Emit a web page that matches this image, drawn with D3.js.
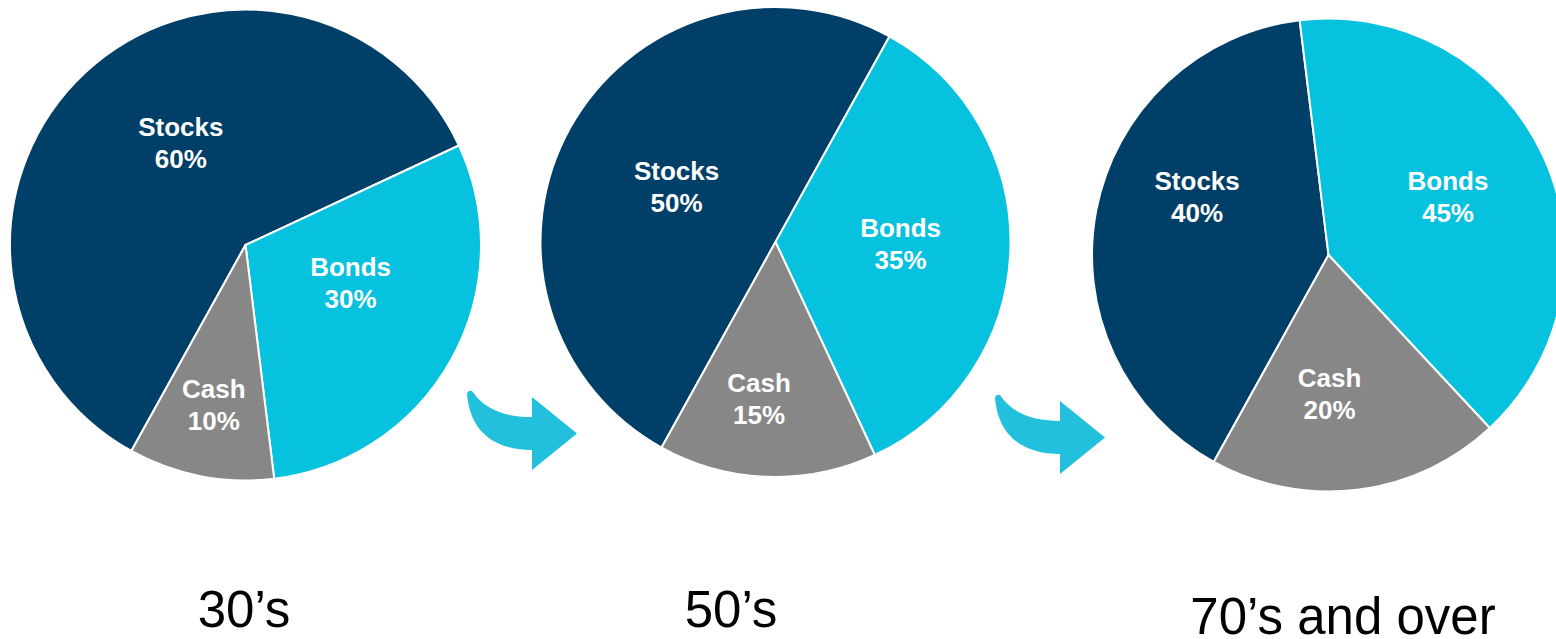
<!DOCTYPE html>
<html>
<head>
<meta charset="utf-8">
<script src="https://cdn.jsdelivr.net/npm/d3@7"></script>
<style>
  html, body { margin: 0; padding: 0; background: #fff; }
  svg { display: block; }
</style>
</head>
<body>
<div id="chart"></div>
<script>
// data, one value per life stage
const stages = ["30\u2019s", "50\u2019s", "70\u2019s and over"];
const categories = ["Stocks", "Bonds", "Cash"];
const stocks = [60, 50, 40];
const bonds = [30, 35, 40];   // last pie draws bonds as a 40% slice
const cash = [10, 15, 20];
const bondLabels = ["30%", "35%", "45%"];  // text printed on the bonds slice

// layout
const width = 1556, height = 639;
const pieLayout = [
  {cx: 245.5, cy: 245, r: 235.5, titleX: 244, titleY: 627},
  {cx: 775.5, cy: 242, r: 235, titleX: 731, titleY: 627},
  {cx: 1328.5, cy: 255, r: 236.5, titleX: 1343, titleY: 634}
];
// small hand nudges of the slice labels (Stocks, Bonds, Cash) per pie
const labelNudge = [
  [[22, -9], [-2, -21], [-2, 7]],
  [[12, 7], [3, -2], [-11, 2]],
  [[-6, -34], [8, -6], [-18, -16]]
];
const arrowSpots = [{x: 467, y: 390}, {x: 995, y: 394}];

const color = d3.scaleOrdinal()
  .domain(categories)
  .range(["#003f68", "#06c2de", "#878787"]);
const labelFactor = {Stocks: 0.54, Bonds: 0.52, Cash: 0.66};

const svg = d3.select("#chart")
  .append("svg")
  .attr("width", width)
  .attr("height", height);

const pie = d3.pie()
  .sort(null)
  .value(d => d.value)
  .startAngle(-151 * Math.PI / 180)
  .endAngle(209 * Math.PI / 180);

stages.forEach(function(stage, i) {
  const L = pieLayout[i];
  const slices = [
    {name: "Stocks", value: stocks[i], label: stocks[i] + "%"},
    {name: "Bonds", value: bonds[i], label: bondLabels[i]},
    {name: "Cash", value: cash[i], label: cash[i] + "%"}
  ];

  const arc = d3.arc().innerRadius(0).outerRadius(L.r);

  const g = svg.append("g")
    .attr("transform", `translate(${L.cx}, ${L.cy})`);

  g.selectAll("path")
    .data(pie(slices))
    .join("path")
    .attr("d", arc)
    .attr("fill", d => color(d.data.name))
    .attr("stroke", "#fff")
    .attr("stroke-width", 2)
    .attr("stroke-linejoin", "round");

  const txt = g.selectAll("text.lbl")
    .data(pie(slices))
    .join("text")
    .attr("class", "lbl")
    .attr("text-anchor", "middle")
    .attr("fill", "#fff")
    .attr("font-family", "'Liberation Sans', Arial, sans-serif")
    .attr("font-weight", "bold")
    .attr("font-size", 26)
    .attr("transform", function(d, j) {
      const lr = L.r * labelFactor[d.data.name];
      const c = d3.arc().innerRadius(lr).outerRadius(lr).centroid(d);
      const n = labelNudge[i][j];
      return `translate(${c[0] + n[0]}, ${c[1] + n[1]})`;
    });
  txt.append("tspan").attr("x", 0).attr("y", -7).text(d => d.data.name);
  txt.append("tspan").attr("x", 0).attr("y", 25).text(d => d.data.label);

  // stage title under the pie
  svg.append("text")
    .attr("x", L.titleX)
    .attr("y", L.titleY)
    .attr("text-anchor", "middle")
    .attr("font-family", "'Liberation Sans', Arial, sans-serif")
    .attr("font-size", 51)
    .attr("fill", "#000")
    .text(stage);
});

// curved arrows between the pies
const arrowPath = "M0,4 Q1,0 5,1 C18,20 38,27 65,27 L65,7 L110,43.5 L65,80 L65,60 C28,60 3,42 0,4 Z";
svg.selectAll("path.arrow")
  .data(arrowSpots)
  .join("path")
  .attr("class", "arrow")
  .attr("d", arrowPath)
  .attr("transform", d => `translate(${d.x}, ${d.y})`)
  .attr("fill", "#22c0dc");
</script>
</body>
</html>
